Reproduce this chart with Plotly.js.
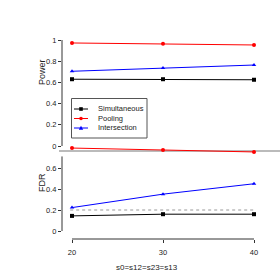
<!DOCTYPE html>
<html>
<head>
<meta charset="utf-8">
<script src="https://cdn.plot.ly/plotly-3.0.1.min.js"></script>
<style>html,body{margin:0;padding:0;background:#fff;}#chart{width:280px;height:280px;}</style>
</head>
<body>
<div id="chart"></div>
<script>
// ---- data ----
const xVals = [20, 30, 40];
const seriesNames = ['Simultaneous', 'Pooling', 'Intersection'];
const powerSimultaneous = [0.630, 0.630, 0.625];
const powerPooling = [0.972, 0.965, 0.953];
const powerIntersection = [0.705, 0.736, 0.764];
const fdrSimultaneous = [0.144, 0.160, 0.160];
const fdrPooling = [0.790, 0.772, 0.753];
const fdrIntersection = [0.223, 0.351, 0.450];
const fdrTarget = 0.2;
const xTicks = [20, 30, 40];
const powerTicks = [0, 0.2, 0.4, 0.6, 0.8, 1];
const fdrTicks = [0, 0.2, 0.4, 0.6];

// ---- styles ----
const colors = ['#000000', '#ff0000', '#0000ff'];
const symbols = ['square', 'circle', 'triangle-up'];
const FONT = 'Liberation Sans, Arial, sans-serif';
const W = 280, H = 280;
const ML = 62, MR = 10, MT = 0, MB = 0;
const PW = W - ML - MR, PH = H - MT - MB;
const px = v => (v - ML) / PW;        // pixel x -> paper
const py = v => 1 - (v - MT) / PH;    // pixel y -> paper

const powerSeries = [powerSimultaneous, powerPooling, powerIntersection];
const fdrSeries = [fdrSimultaneous, fdrPooling, fdrIntersection];

const traces = [];
seriesNames.forEach((name, i) => {
  traces.push({
    x: xVals, y: powerSeries[i], name: name, xaxis: 'x', yaxis: 'y',
    mode: 'lines+markers', cliponaxis: false, showlegend: false,
    line: {color: colors[i], width: 1},
    marker: {color: colors[i], symbol: symbols[i], size: 4}
  });
  traces.push({
    x: xVals, y: fdrSeries[i], name: name, xaxis: 'x', yaxis: 'y2',
    mode: 'lines+markers', cliponaxis: false, showlegend: false,
    line: {color: colors[i], width: 1},
    marker: {color: colors[i], symbol: symbols[i], size: 4}
  });
});

const shapes = [
  // y axis lines (span tick range)
  {type: 'line', xref: 'paper', yref: 'y', x0: px(62), x1: px(62), y0: 0, y1: 1, line: {color: '#333', width: 1}},
  {type: 'line', xref: 'paper', yref: 'y2', x0: px(62), x1: px(62), y0: 0, y1: 0.71, line: {color: '#333', width: 1}},
  // x axis line
  {type: 'line', xref: 'x', yref: 'paper', x0: xTicks[0], x1: xTicks[xTicks.length - 1], y0: py(239), y1: py(239), line: {color: '#333', width: 1}},
  // target FDR reference
  {type: 'line', xref: 'x', yref: 'y2', x0: 19.8, x1: 40.1, y0: fdrTarget, y1: fdrTarget, line: {color: '#999', width: 1, dash: 'dot'}},
  // grey separator
  {type: 'line', xref: 'paper', yref: 'paper', x0: px(59), x1: px(280), y0: py(151), y1: py(151), line: {color: '#bbbbbb', width: 2}, layer: 'below'},
  // legend box
  {type: 'rect', xref: 'paper', yref: 'paper', x0: px(71.5), x1: px(147), y0: py(98.5), y1: py(138), line: {color: '#555', width: 1}, fillcolor: 'rgba(255,255,255,0)'}
];

const annotations = [
  {text: 'Power', xref: 'paper', yref: 'paper', x: px(42), y: py(72), xanchor: 'center', yanchor: 'middle', textangle: -90, showarrow: false, font: {family: FONT, size: 9, color: '#222'}},
  {text: 'FDR', xref: 'paper', yref: 'paper', x: px(42), y: py(183), xanchor: 'center', yanchor: 'middle', textangle: -90, showarrow: false, font: {family: FONT, size: 9, color: '#222'}},
  {text: 's0=s12=s23=s13', xref: 'paper', yref: 'paper', x: px(147), y: py(267), xanchor: 'center', yanchor: 'middle', showarrow: false, font: {family: FONT, size: 8, color: '#222'}}
];

// legend entries
const legY = [109, 118.5, 128];
seriesNames.forEach((name, i) => {
  const y = legY[i];
  shapes.push({type: 'line', xref: 'paper', yref: 'paper', x0: px(74), x1: px(88), y0: py(y), y1: py(y), line: {color: colors[i], width: 1}});
  const r = 1.8;
  if (symbols[i] === 'square') {
    shapes.push({type: 'rect', xref: 'paper', yref: 'paper', x0: px(81 - r), x1: px(81 + r), y0: py(y + r), y1: py(y - r), line: {width: 0}, fillcolor: colors[i]});
  } else if (symbols[i] === 'circle') {
    shapes.push({type: 'circle', xref: 'paper', yref: 'paper', x0: px(81 - r), x1: px(81 + r), y0: py(y + r), y1: py(y - r), line: {width: 0}, fillcolor: colors[i]});
  } else {
    shapes.push({type: 'path', xref: 'paper', yref: 'paper',
      path: 'M ' + px(81 - 2.2) + ' ' + py(y + 1.8) + ' L ' + px(81 + 2.2) + ' ' + py(y + 1.8) + ' L ' + px(81) + ' ' + py(y - 2.2) + ' Z',
      line: {width: 0}, fillcolor: colors[i]});
  }
  annotations.push({text: name, xref: 'paper', yref: 'paper', x: px(96), y: py(y), xanchor: 'left', yanchor: 'middle', showarrow: false, font: {family: FONT, size: 7.5, color: '#222'}});
});

// px per unit on x: (254-72)/20
const xs = (254 - 72) / 20;
const layout = {
  width: W, height: H,
  margin: {l: ML, r: MR, t: MT, b: MB},
  paper_bgcolor: '#fff', plot_bgcolor: 'rgba(0,0,0,0)',
  showlegend: false,
  font: {family: FONT, size: 7.5, color: '#222'},
  xaxis: {
    anchor: 'y2', range: [20 - (72 - ML) / xs, 40 + (W - MR - 254) / xs], tickvals: xTicks, ticktext: xTicks.map(String),
    ticks: 'outside', ticklen: 3, tickcolor: '#333', showline: false, showgrid: false, zeroline: false,
    ticklabelstandoff: 3,
    tickfont: {family: FONT, size: 7.5, color: '#222'}
  },
  yaxis: {
    domain: [py(151), py(36)], range: [(146 - 151) / 106, (146 - 36) / 106],
    tickvals: powerTicks, ticktext: powerTicks.map(String),
    ticks: 'outside', ticklen: 3, tickcolor: '#333', showline: false, showgrid: false, zeroline: false,
    tickfont: {family: FONT, size: 7.5, color: '#222'}
  },
  yaxis2: {
    domain: [py(239), py(140)], range: [(231 - 239) / 105, (231 - 140) / 105],
    tickvals: fdrTicks, ticktext: fdrTicks.map(String),
    ticks: 'outside', ticklen: 3, tickcolor: '#333', showline: false, showgrid: false, zeroline: false,
    tickfont: {family: FONT, size: 7.5, color: '#222'}
  },
  shapes: shapes,
  annotations: annotations
};

Plotly.newPlot('chart', traces, layout, {staticPlot: true, displayModeBar: false});
</script>
</body>
</html>
